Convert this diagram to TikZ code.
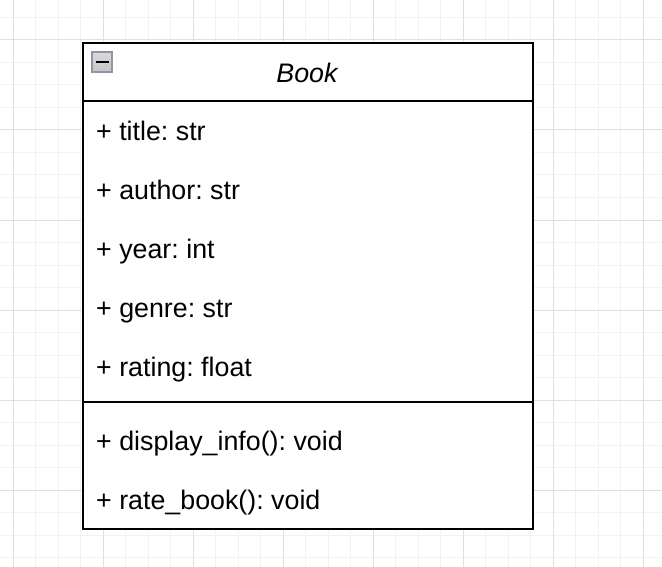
\documentclass[tikz,border=0pt]{standalone}
\usepackage{fontspec}
\setmainfont{Liberation Sans}
\frenchspacing
\definecolor{iconedge}{HTML}{8F95A5}
\tikzset{
  member/.style={anchor=base west,inner sep=0pt,font=\fontsize{26.9}{31}\selectfont},
  minorgrid/.style={color=gray!10,line width=1bp},
  majorgrid/.style={color=gray!25,line width=1bp}
}
\begin{document}
\begin{tikzpicture}[x=1bp,y=-1bp]
   \useasboundingbox[fill=white] (0,0) rectangle (662,567);

   \foreach \k in {0,...,28} \draw[minorgrid] (13.3+22.5*\k,0) -- (13.3+22.5*\k,567);
   \foreach \k in {0,...,24} \draw[minorgrid] (0,17.5+22.5*\k) -- (662,17.5+22.5*\k);
   \foreach \k in {0,...,7} \draw[majorgrid] (13.3+90*\k,0) -- (13.3+90*\k,567);
   \foreach \k in {0,...,5} \draw[majorgrid] (0,40+90*\k) -- (662,40+90*\k);

   \node[draw,fill=white,line width=2bp,anchor=north west,inner sep=0pt,
     minimum width=450bp,minimum height=486bp] (book) at (82,42) {};
   \draw[line width=2bp] ([yshift=-59bp]book.north west) -- ([yshift=-59bp]book.north east);
   \draw[line width=2bp] ([yshift=-360bp]book.north west) -- ([yshift=-360bp]book.north east);

   \node[draw=iconedge,line width=1.5bp,top color=gray!30,middle color=white,
     bottom color=gray!45,minimum size=20bp,inner sep=0pt] (fold) at (102,62) {};
   \draw[line width=2bp] ([xshift=-6.5bp]fold.center) -- ([xshift=6.5bp]fold.center);

   \node[anchor=base,inner sep=0pt,font=\itshape\fontsize{26.9}{31}\selectfont] (name) at (307,82.5) {Book};

   \foreach \id/\txt/\y in {title/+ title: str/140.7, author/+ author: str/199.5,
     year/+ year: int/258.5, genre/+ genre: str/317.5, rating/+ rating: float/376.5,
     info/+ display\_info(): void/450, rate/+ rate\_book(): void/509}
     \node[member] (\id) at (96,\y) {\txt};
 \end{tikzpicture}
\end{document}
